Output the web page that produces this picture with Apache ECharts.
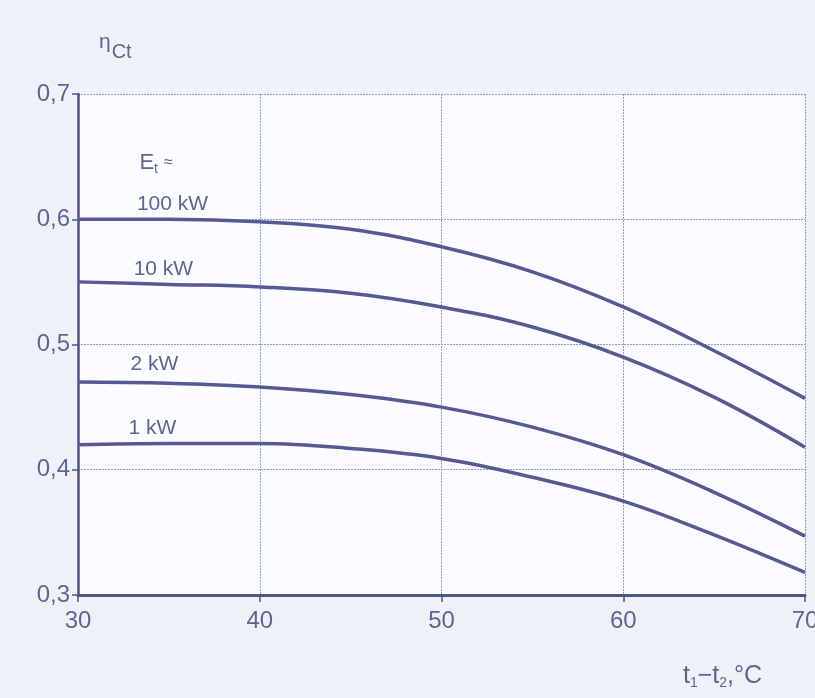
<!DOCTYPE html>
<html>
<head>
<meta charset="utf-8">
<script src="https://cdn.jsdelivr.net/npm/echarts@6/dist/echarts.min.js"></script>
<style>
html,body{margin:0;padding:0;background:#eff1f9;}
#chart{width:815px;height:698px;}
</style>
</head>
<body>
<div id="chart"></div>
<script>
// Data
const xValues = [30, 35, 40, 45, 50, 55, 60, 65, 70];
const eta100kW = [0.600, 0.600, 0.598, 0.592, 0.578, 0.558, 0.530, 0.495, 0.457];
const eta10kW  = [0.550, 0.548, 0.546, 0.541, 0.530, 0.514, 0.490, 0.458, 0.418];
const eta2kW   = [0.470, 0.469, 0.466, 0.460, 0.450, 0.434, 0.412, 0.382, 0.347];
const eta1kW   = [0.420, 0.421, 0.421, 0.417, 0.409, 0.394, 0.375, 0.348, 0.318];
const seriesNames = ['100 kW', '10 kW', '2 kW', '1 kW'];
const xTicks = [30, 40, 50, 60, 70];
const yTicks = [0.3, 0.4, 0.5, 0.6, 0.7];

const lineColor = '#555a92';
const textColor = '#5f6592';
const font = 'Liberation Sans';

const allSeries = [eta100kW, eta10kW, eta2kW, eta1kW];
const labelAnchors = [[35.2, 0.612], [34.7, 0.560], [34.2, 0.484], [34.1, 0.433]];

const chart = echarts.init(document.getElementById('chart'));
const option = {
  backgroundColor: '#eff1f9',
  animation: false,
  title: [
    {
      text: '{e|η}{s|Ct}',
      left: 94, top: 27,
      textStyle: {
        fontWeight: 'normal',
        rich: {
          e: { fontSize: 21, color: textColor, fontFamily: font, fontWeight: 'normal', verticalAlign: 'top', padding: [0, 1, 8, 0] },
          s: { fontSize: 20, color: textColor, fontFamily: font, fontWeight: 'normal', padding: [10, 0, 0, 0] }
        }
      }
    },
    {
      text: 't{s|1}−t{s|2},°C',
      left: 678, top: 658,
      textStyle: {
        fontSize: 25, color: textColor, fontFamily: font, fontWeight: 'normal',
        rich: { s: { fontSize: 14, color: textColor, fontFamily: font, padding: [13, 0, 0, 0] } }
      }
    }
  ],
  grid: { left: 78, right: 10, top: 94, bottom: 103, outerBoundsMode: 'none', containLabel: false, show: true, backgroundColor: '#fbfcff', borderWidth: 0 },
  xAxis: {
    type: 'value', min: 30, max: 70, interval: 10,
    axisLine: { show: true, onZero: false, lineStyle: { color: '#4e5388', width: 3 } },
    axisTick: { show: true, length: 7, lineStyle: { color: '#4e5388', width: 1.5 } },
    axisLabel: { color: textColor, fontSize: 24, fontFamily: font, margin: 14,
      formatter: v => xTicks.includes(v) ? String(v) : '' },
    splitLine: { show: true, lineStyle: { color: '#959bcb', width: 1, type: [2, 1] } }
  },
  yAxis: {
    type: 'value', min: 0.3, max: 0.7, interval: 0.1,
    axisLine: { show: true, onZero: false, lineStyle: { color: '#4e5388', width: 2.5 } },
    axisTick: { show: true, length: 6, lineStyle: { color: '#4e5388', width: 1.5 } },
    axisLabel: { color: textColor, fontSize: 24, fontFamily: font, margin: 8,
      formatter: v => { const t = yTicks.find(y => Math.abs(y - v) < 1e-6); return t === undefined ? '' : t.toFixed(1).replace('.', ','); } },
    splitLine: { show: true, lineStyle: { color: '#959bcb', width: 1, type: [2, 1] } }
  },
  series: allSeries.map((vals, i) => ({
    name: seriesNames[i],
    type: 'line',
    smooth: 0.4,
    showSymbol: false,
    data: xValues.map((x, j) => [x, vals[j]]),
    lineStyle: { color: lineColor, width: 3.5 },
    z: 3,
    markPoint: {
      symbol: 'circle', symbolSize: 0, silent: true,
      label: { show: true, position: 'inside', color: textColor, fontSize: 21, fontFamily: font },
      data: (i === 0
        ? [{ coord: labelAnchors[i], value: seriesNames[i] },
           { coord: [34.3, 0.645], value: 'E{s|t} ≈', label: { formatter: 'E{s|t} {a|≈}', fontSize: 22, rich: { s: { fontSize: 14, color: textColor, fontFamily: font, padding: [12, 0, 0, 0] }, a: { fontSize: 16, color: textColor, fontFamily: font } } } }]
        : [{ coord: labelAnchors[i], value: seriesNames[i] }])
    }
  }))
};
chart.setOption(option);
</script>
</body>
</html>
